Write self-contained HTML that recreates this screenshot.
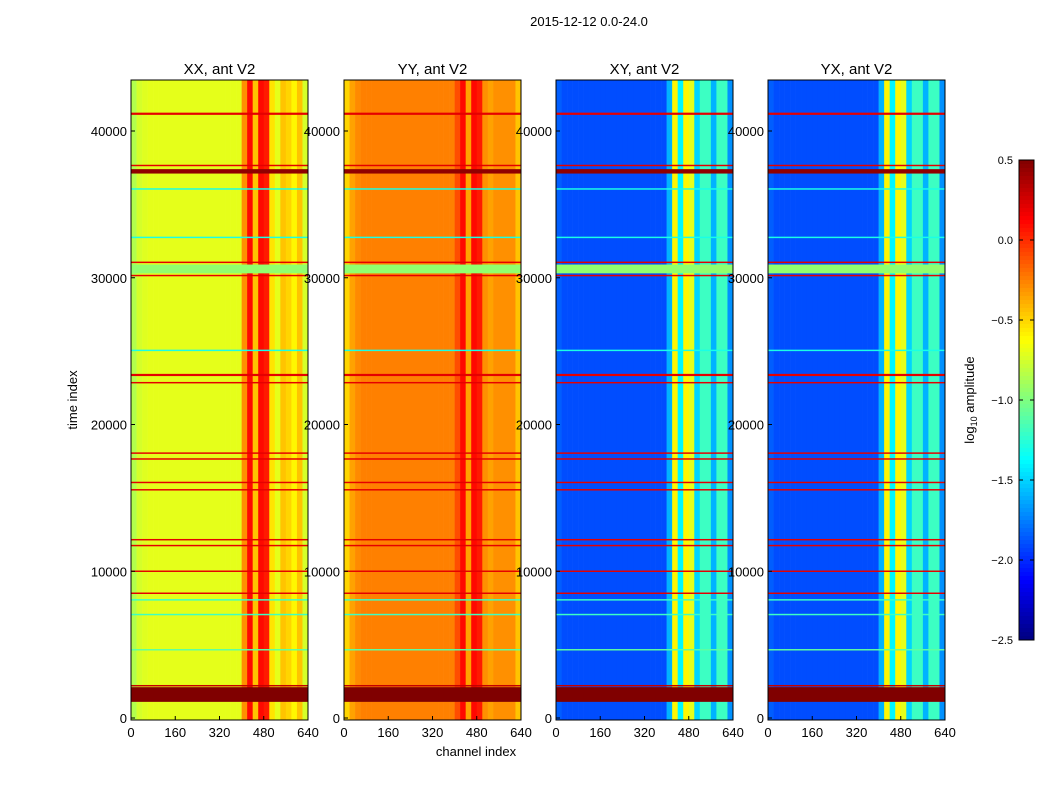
<!DOCTYPE html>
<html><head><meta charset="utf-8"><style>
body{margin:0;background:#fff;}
svg text{font-family:"Liberation Sans",sans-serif;fill:#000;}
</style></head><body>
<svg id="fig" width="1050" height="800" xmlns="http://www.w3.org/2000/svg">
<rect width="1050" height="800" fill="#fff"/>
<text x="589" y="26" font-size="13" text-anchor="middle">2015-12-12 0.0-24.0</text>
<g id="panels"></g>
<text x="476" y="756" font-size="13" text-anchor="middle">channel index</text>
<text x="77" y="400" font-size="13" text-anchor="middle" transform="rotate(-90 77 400)">time index</text>
<g id="cbar"></g>
<text x="974" y="400" font-size="13" text-anchor="middle" transform="rotate(-90 974 400)">log<tspan font-size="9" dy="3">10</tspan><tspan dy="-3"> amplitude</tspan></text>
</svg>
<script>
// ---- data ----
const panelNames = ["XX, ant V2","YY, ant V2","XY, ant V2","YX, ant V2"];
const channelBins = [0,20,40,60,80,100,120,140,160,180,200,220,240,260,280,300,320,340,360,380,400,420,440,460,480,500,520,540,560,580,600,620];
const profileXX = [-0.85,-0.75,-0.72,-0.7,-0.7,-0.7,-0.7,-0.7,-0.7,-0.7,-0.7,-0.7,-0.7,-0.7,-0.7,-0.7,-0.7,-0.7,-0.7,-0.7,-0.3,0.1,-0.45,0.1,0.05,-0.55,-0.7,-0.45,-0.5,-0.6,-0.45,-0.75];
const profileYY = [-0.5,-0.35,-0.28,-0.25,-0.25,-0.25,-0.25,-0.25,-0.25,-0.25,-0.25,-0.25,-0.25,-0.25,-0.25,-0.25,-0.25,-0.25,-0.25,-0.25,-0.1,0.1,-0.35,0.1,0.05,-0.3,-0.35,-0.3,-0.3,-0.3,-0.3,-0.45];
const profileXY = [-1.85,-1.9,-1.9,-1.9,-1.9,-1.9,-1.9,-1.9,-1.9,-1.9,-1.9,-1.9,-1.9,-1.9,-1.9,-1.9,-1.9,-1.9,-1.9,-1.9,-1.6,-0.6,-1.4,-0.6,-0.7,-1.5,-1.2,-1.2,-1.6,-1.2,-1.2,-1.7];
const profileYX = [-1.85,-1.9,-1.9,-1.9,-1.9,-1.9,-1.9,-1.9,-1.9,-1.9,-1.9,-1.9,-1.9,-1.9,-1.9,-1.9,-1.9,-1.9,-1.9,-1.9,-1.6,-0.6,-1.4,-0.6,-0.7,-1.5,-1.2,-1.2,-1.6,-1.2,-1.2,-1.7];
const profiles = [profileXX, profileYY, profileXY, profileYX];
// time bands: start, end, value (overrides)
const bandStart = [1100,30300,37100,41100,37600,31000,30100,23300,22800,18000,17600,16000,15500,12100,11700,9950,8450,2150,25000,32700,36000,8000,7000,4600];
const bandEnd   = [2100,30900,37400,41250,37700,31100,30200,23450,22900,18100,17700,16100,15600,12200,11800,10050,8550,2250,25100,32800,36100,8100,7100,4700];
const bandValue = [0.5,-0.95,0.45,0.2,0.2,0.2,0.2,0.2,0.2,0.2,0.2,0.2,0.2,0.2,0.2,0.2,0.2,0.3,-1.3,-1.3,-1.3,-1.2,-1.2,-1.1];
const xTicks = [0,160,320,480,640];
const yTicks = [0,10000,20000,30000,40000];
const cbTicks = [0.5,0.0,-0.5,-1.0,-1.5,-2.0,-2.5];
// ---- layout ----
const panelX = [131,344,556,768], panelW = 177, pTop = 80, pBot = 720;
const vMin=-2.5, vMax=0.5;
const yScale = t => 718 - t/10000*146.75;
function jet(v){
  let x=(v-vMin)/(vMax-vMin); x=Math.max(0,Math.min(1,x));
  const f=c=>Math.round(255*Math.max(0,Math.min(1,c)));
  const r=1.5-Math.abs(4*x-3), g=1.5-Math.abs(4*x-2), b=1.5-Math.abs(4*x-1);
  return `rgb(${f(r)},${f(g)},${f(b)})`;
}
const NS="http://www.w3.org/2000/svg";
function el(tag,attrs,parent){const e=document.createElementNS(NS,tag);for(const k in attrs)e.setAttribute(k,attrs[k]);parent.appendChild(e);return e;}
const pg=document.getElementById('panels');
panelNames.forEach((name,p)=>{
  const x0=panelX[p];
  const xScale=c=>x0+c/640*panelW;
  const g=el('g',{},pg);
  
  
  const prof=profiles[p];
  channelBins.forEach((c,i)=>{
    const r=el('rect',{x:xScale(c),y:pTop,width:xScale(c+20)-xScale(c)+0.3,height:pBot-pTop,fill:jet(prof[i])},g);
    
    
  });
  bandStart.forEach((s,i)=>{
    const y1=yScale(bandEnd[i]), y2=yScale(s);
    const r=el('rect',{x:x0,y:y1,width:panelW,height:Math.max(1,y2-y1),fill:jet(bandValue[i])},g);
    
    
  });
  el('rect',{x:x0,y:pTop,width:panelW,height:pBot-pTop,fill:'none',stroke:'#000','stroke-width':1},g);
  const t=el('text',{x:x0+panelW/2,y:74,'font-size':15,'text-anchor':'middle'},g);t.textContent=name;
  
  
  xTicks.forEach(v=>{
    const x=xScale(v);
    el('line',{x1:x,x2:x,y1:pBot,y2:pBot-4,stroke:'#000'},g);
    const tx=el('text',{x:x,y:737,'font-size':13,'text-anchor':'middle'},g);tx.textContent=v;
    
    
  });
  yTicks.forEach(v=>{
    const y=yScale(v);
    el('line',{x1:x0,x2:x0+4,y1:y,y2:y,stroke:'#000'},g);
    const ty=el('text',{x:x0-4,y:y+5,'font-size':13,'text-anchor':'end'},g);ty.textContent=v;
    
    
  });
});
// colorbar
const cb=document.getElementById('cbar');


const cbTop=160,cbBot=640,cbX=1019,cbW=15;
for(let i=0;i<120;i++){
  const v=vMax-(i+0.5)/120*(vMax-vMin);
  el('rect',{x:cbX,y:cbTop+i*4,width:cbW,height:4.3,fill:jet(v)},cb);
}
el('rect',{x:cbX,y:cbTop,width:cbW,height:cbBot-cbTop,fill:'none',stroke:'#000'},cb);
cbTicks.forEach(v=>{
  const y=cbTop+(vMax-v)/(vMax-vMin)*(cbBot-cbTop);
  el('line',{x1:cbX+cbW-4,x2:cbX+cbW,y1:y,y2:y,stroke:'#000'},cb);
  el('line',{x1:cbX,x2:cbX+4,y1:y,y2:y,stroke:'#000'},cb);
  const t=el('text',{x:1013,y:y+4,'font-size':11,'text-anchor':'end'},cb);t.textContent=v.toFixed(1).replace('-','\u2212');
  
  
});
</script>
</body></html>
